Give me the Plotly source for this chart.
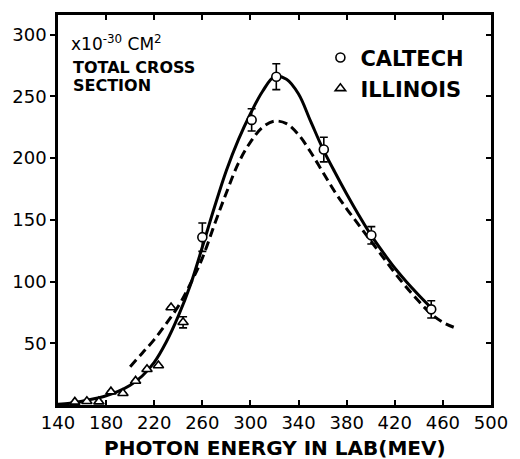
import plotly.graph_objects as go

# ---- data ----
cal_x = [260, 301, 321.5, 361, 400.5, 450.3]
cal_y = [136, 231, 266, 207, 137.5, 77.5]
cal_err = [11.5, 9, 10.5, 10, 7, 7]

ill_x = [154, 164, 174, 184, 194, 204.5, 214, 223.5, 234, 244]
ill_y = [2.5, 3, 2.7, 10.8, 9.5, 19.5, 29, 32, 79, 67]
ill_err = [None, None, None, None, None, None, None, None, None, 4.5]

solid_x = [140, 150, 160, 170, 180, 190, 200, 210, 220, 230, 240, 250, 260, 270, 280,
           290, 300, 310, 320, 330, 340, 350, 360, 370, 380, 390, 400, 410, 420, 430,
           440, 450]
solid_y = [0.5, 1.5, 3, 5, 7.5, 11, 16, 23.5, 34.5, 51, 72, 97, 128, 160, 190,
           215, 236, 254, 266, 264, 252, 230, 208, 189, 171, 154, 138, 124, 111, 99.5,
           89, 79]

dash_x = [200, 210, 220, 230, 240, 250, 260, 270, 280, 290, 300, 310, 320, 330, 340,
          350, 360, 370, 380, 390, 400, 410, 420, 430, 440, 450, 460, 469]
dash_y = [31, 42, 53, 66, 80, 98, 119, 146, 172, 196, 213, 225, 230, 228, 219,
          205, 189, 173, 159, 146, 133, 120, 107, 95, 84, 74, 67, 63]

x_ticks = [140, 180, 220, 260, 300, 340, 380, 420, 460, 500]
y_ticks = [50, 100, 150, 200, 250, 300]

FONT = "DejaVu Sans"

fig = go.Figure()

fig.add_trace(go.Scatter(x=solid_x, y=solid_y, mode="lines", showlegend=False,
                         line=dict(color="black", width=3, shape="spline", smoothing=1.0),
                         hoverinfo="skip"))
fig.add_trace(go.Scatter(x=dash_x, y=dash_y, mode="lines", showlegend=False,
                         line=dict(color="black", width=3, shape="spline", smoothing=1.0,
                                   dash="9px,5px"),
                         hoverinfo="skip"))

fig.add_trace(go.Scatter(x=cal_x, y=cal_y, mode="markers", name="CALTECH",
                         legend="legend",
                         marker=dict(symbol="circle", size=9, color="white",
                                     line=dict(color="black", width=1.6)),
                         error_y=dict(type="data", array=cal_err, visible=True,
                                      color="black", thickness=1.6, width=4)))
fig.add_trace(go.Scatter(x=ill_x, y=ill_y, mode="markers", name="ILLINOIS",
                         legend="legend2",
                         marker=dict(symbol="triangle-up", size=9, color="white",
                                     line=dict(color="black", width=1.6)),
                         error_y=dict(type="data", array=ill_err, visible=True,
                                      color="black", thickness=1.6, width=4)))

# invisible trace to anchor the right-hand tick axis
fig.add_trace(go.Scatter(x=[None], y=[None], yaxis="y2", showlegend=False,
                         hoverinfo="skip"))

fig.update_layout(
    width=520, height=459,
    margin=dict(l=55, r=22, t=14, b=54),
    paper_bgcolor="white", plot_bgcolor="white",
    font=dict(family=FONT, color="black"),
    xaxis=dict(range=[140, 500], tickvals=x_ticks, ticktext=[str(v) for v in x_ticks],
               ticks="inside", ticklen=5, tickwidth=2, tickcolor="black",
               showline=True, linewidth=2.5, linecolor="black", mirror="ticks",
               showgrid=False, zeroline=False,
               tickfont=dict(family=FONT, size=18, color="black")),
    yaxis=dict(range=[0, 316], tickvals=y_ticks, ticktext=[str(v) for v in y_ticks],
               ticks="outside", ticklen=5, tickwidth=2, tickcolor="black",
               showline=True, linewidth=2.5, linecolor="black", mirror=True,
               showgrid=False, zeroline=False,
               tickfont=dict(family=FONT, size=18, color="black")),
    yaxis2=dict(range=[0, 316], overlaying="y", side="right", tickvals=y_ticks,
                ticks="inside", ticklen=5, tickwidth=2, tickcolor="black",
                showticklabels=False, showline=False, showgrid=False, zeroline=False),
    legend=dict(x=0.606, y=0.890, xanchor="left", yanchor="middle",
                bgcolor="rgba(0,0,0,0)", borderwidth=0,
                font=dict(family=FONT, size=21, color="black", weight="bold")),
    legend2=dict(x=0.606, y=0.811, xanchor="left", yanchor="middle",
                 bgcolor="rgba(0,0,0,0)", borderwidth=0,
                 font=dict(family=FONT, size=21, color="black", weight="bold")),
    annotations=[
        dict(text="x10<sup>-30</sup> CM<sup>2</sup>", xref="paper", yref="paper",
             x=(66 - 55) / 443, y=(405 - 42) / 391, xanchor="left", yanchor="middle",
             showarrow=False, font=dict(family=FONT, size=17, color="black")),
        dict(text="TOTAL CROSS", xref="paper", yref="paper",
             x=(68 - 55) / 443, y=(405 - 67) / 391, xanchor="left", yanchor="middle",
             showarrow=False, font=dict(family=FONT, size=16, color="black", weight="bold")),
        dict(text="SECTION", xref="paper", yref="paper",
             x=(68 - 55) / 443, y=(405 - 85) / 391, xanchor="left", yanchor="middle",
             showarrow=False, font=dict(family=FONT, size=16, color="black", weight="bold")),
        dict(text="PHOTON ENERGY IN LAB(MEV)", xref="paper", yref="paper",
             x=0.5, y=(405 - 448) / 391, xanchor="center", yanchor="middle",
             showarrow=False, font=dict(family=FONT, size=20, color="black", weight="bold")),
    ],
)

fig.write_html("out.html")
